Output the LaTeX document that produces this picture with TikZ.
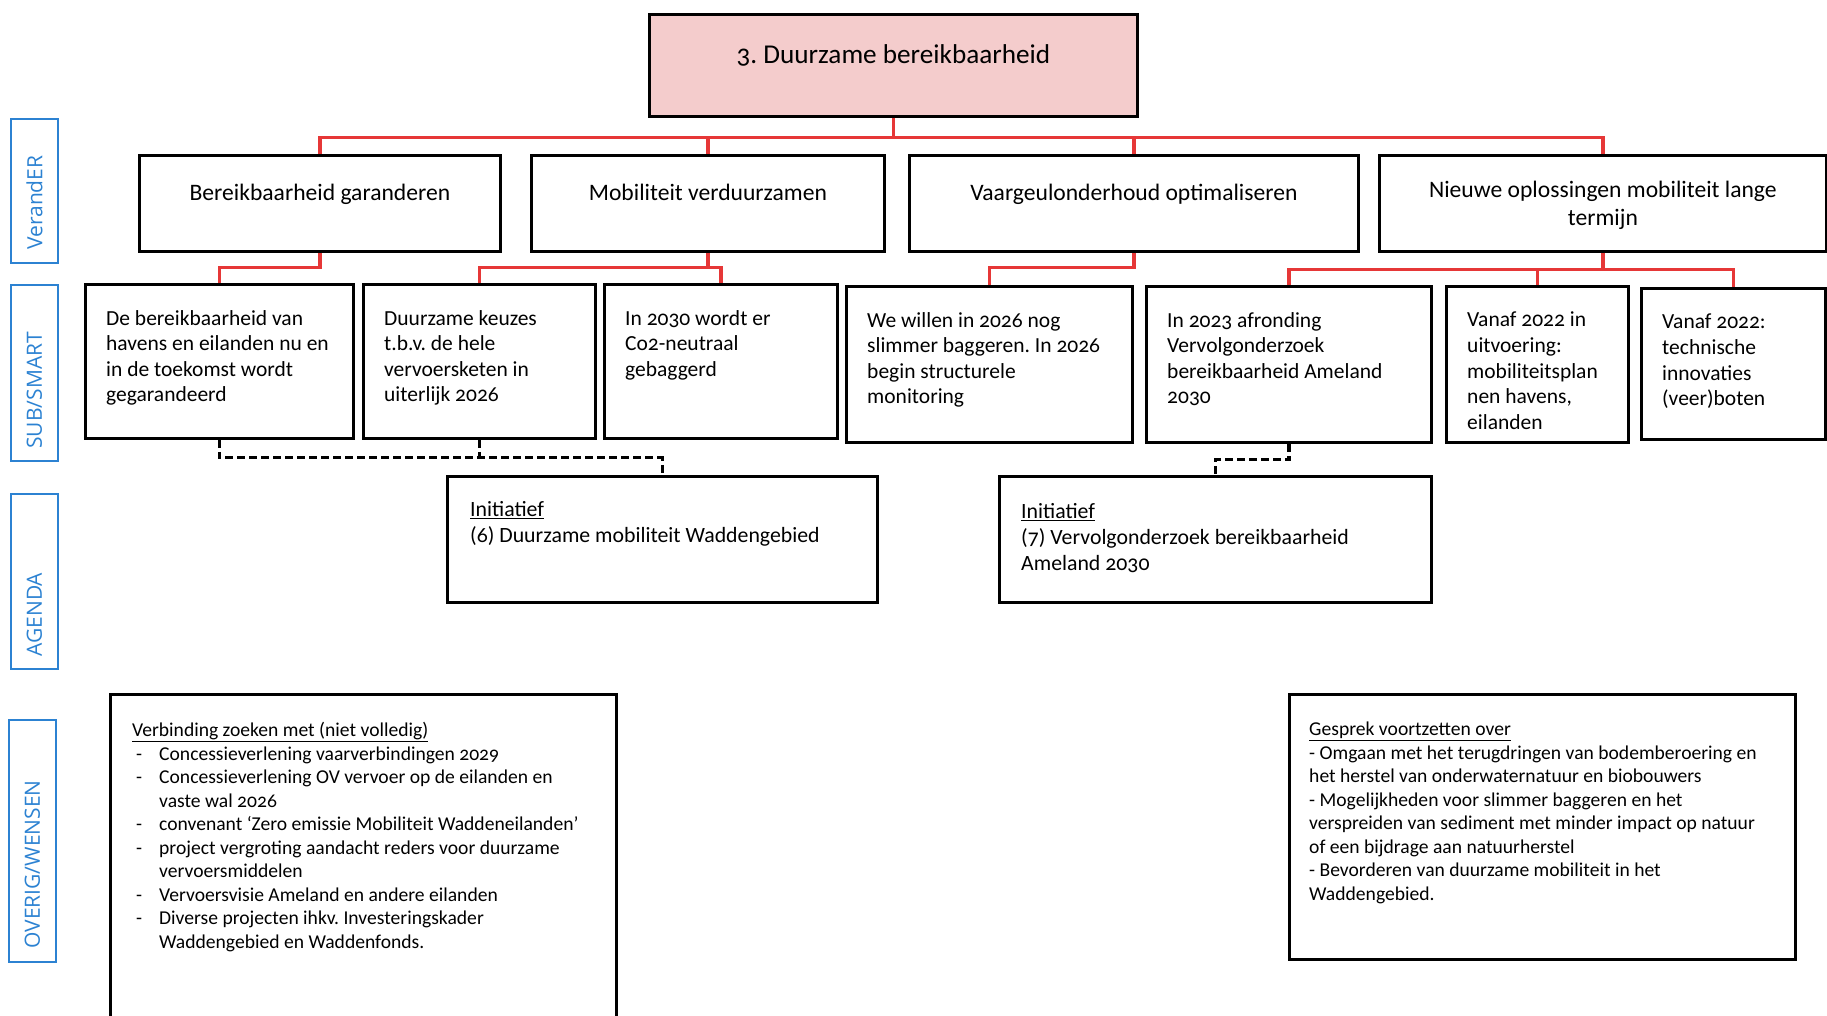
\documentclass[tikz,border=0pt]{standalone}
\usepackage{fontspec}
\setmainfont{Carlito}[Numbers=OldStyle]
\newfontfamily\zijfont{Open Sans}
\usepackage{tikz}
\usetikzlibrary{positioning}

\definecolor{lijnrood}{RGB}{230,55,55}
\definecolor{kopvak}{RGB}{244,204,204}
\definecolor{zijblauw}{RGB}{44,130,210}

\newcommand{\streep}{\hspace*{4pt}\makebox[23pt][l]{-}}
\newcommand{\inspring}{\hspace*{27pt}}

\tikzset{
  vak/.style={draw, line width=2.8pt, anchor=north west, inner sep=0pt},
  zij/.style={draw=zijblauw, line width=1.8pt, anchor=north west, inner sep=0pt, minimum width=47pt},
  zijtekst/.style={rotate=90, anchor=west, inner sep=0pt, text=zijblauw, font=\zijfont\fontsize{21}{21}\selectfont},
  rood/.style={draw=lijnrood, line width=3.2pt},
  stip/.style={draw=black, line width=3.2pt, dash pattern=on 8pt off 4pt},
  kop2/.style={inner sep=0pt, align=center, font=\fontsize{23.6}{28}\selectfont},
  tekst/.style={inner sep=0pt, align=left, font=\fontsize{21.5}{25.6}\selectfont},
  initiatief/.style={inner sep=0pt, align=left, font=\fontsize{21.8}{26}\selectfont},
  lijst/.style={inner sep=0pt, align=left, font=\fontsize{19.6}{23.5}\selectfont}
}

\begin{document}
\frenchspacing
\begin{tikzpicture}[x=1pt, y=-1pt]
\useasboundingbox (0,0) rectangle (1827,1016);

% zijkant
\foreach \naam/\x/\y/\ho in {l1/10/118/144, l2/10/284/176, l3/10/493/175, l4/8/719/242}
	\node[zij, minimum height=\ho pt] (\naam) at (\x,\y) {};
\node[zijtekst] (t-l1) at ([yshift=14pt]l1.south) {VerandER};
\node[zijtekst] (t-l2) at ([yshift=13pt]l2.south) {SUB/SMART};
\node[zijtekst] (t-l3) at ([yshift=13pt]l3.south) {AGENDA};
\node[zijtekst] (t-l4) at ([yshift=14pt]l4.south) {OVERIG/WENSEN};

% doel
\node[vak, fill=kopvak, minimum width=488pt, minimum height=102pt] (doel) at (648,13) {};
\node[inner sep=0pt, font=\fontsize{27.2}{30}\selectfont, below=31pt of doel.north] (t-doel) {3. Duurzame bereikbaarheid};

% verander
\foreach \naam/\x/\br in {v1/138/361, v2/530/353, v3/908/449, v4/1378/447}
	\node[vak, minimum width=\br pt, minimum height=96pt] (\naam) at (\x,154) {};
\node[kop2, below=30pt of v1.north] (t-v1) {Bereikbaarheid garanderen};
\node[kop2, below=30pt of v2.north] (t-v2) {Mobiliteit verduurzamen};
\node[kop2, below=30pt of v3.north] (t-v3) {Vaargeulonderhoud optimaliseren};
\node[kop2, below=27pt of v4.north] (t-v4) {Nieuwe oplossingen mobiliteit lange\\termijn};

% sub/smart
\foreach \naam/\x/\y/\br/\ho in {s1/84/283/268/154, s2/362/283/232/154, s3/603/283/233/154, s4/845/285/286/156,
		s5/1145/285/285/156, s6/1445/285/182/156, s7/1640/287/184/151}
	\node[vak, minimum width=\br pt, minimum height=\ho pt] (\naam) at (\x,\y) {};
\node[tekst, below right=27pt and 22pt of s1.north west] (t-s1) {De bereikbaarheid van\\havens en eilanden nu en\\in de toekomst wordt\\gegarandeerd};
\node[tekst, below right=27pt and 22pt of s2.north west] (t-s2) {Duurzame keuzes\\t.b.v. de hele\\vervoersketen in\\uiterlijk 2026};
\node[tekst, below right=27pt and 22pt of s3.north west] (t-s3) {In 2030 wordt er\\Co2-neutraal\\gebaggerd};
\node[tekst, below right=27pt and 22pt of s4.north west] (t-s4) {We willen in 2026 nog\\slimmer baggeren. In 2026\\begin structurele\\monitoring};
\node[tekst, below right=27pt and 22pt of s5.north west] (t-s5) {In 2023 afronding\\Vervolgonderzoek\\bereikbaarheid Ameland\\2030};
\node[tekst, below right=27pt and 22pt of s6.north west] (t-s6) {Vanaf 2022 in\\uitvoering:\\mobiliteitsplan\\nen havens,\\eilanden};
\node[tekst, below right=27pt and 22pt of s7.north west] (t-s7) {Vanaf 2022:\\technische\\innovaties\\(veer)boten};

% agenda
\node[vak, minimum width=430pt, minimum height=126pt] (i6) at (446,475) {};
\node[vak, minimum width=432pt, minimum height=126pt] (i7) at (998,475) {};
\node[initiatief, below right=26pt and 24pt of i6.north west] (t-i6) {\underline{Initiatief}\\(6) Duurzame mobiliteit Waddengebied};
\node[initiatief, below right=28pt and 23pt of i7.north west] (t-i7) {\underline{Initiatief}\\(7) Vervolgonderzoek bereikbaarheid\\Ameland 2030};

% overig/wensen
\node[vak, minimum width=506pt, minimum height=360pt] (o1) at (109,693) {};
\node[vak, minimum width=506pt, minimum height=265pt] (o2) at (1288,693) {};
\node[lijst, below right=29pt and 23pt of o1.north west] (t-o1) {\underline{Verbinding zoeken met (niet volledig)}\\
	\streep Concessieverlening vaarverbindingen 2029\\
	\streep Concessieverlening OV vervoer op de eilanden en\\
	\inspring vaste wal 2026\\
	\streep convenant ‘Zero emissie Mobiliteit Waddeneilanden’\\
	\streep project vergroting aandacht reders voor duurzame\\
	\inspring vervoersmiddelen\\
	\streep Vervoersvisie Ameland en andere eilanden\\
	\streep Diverse projecten ihkv. Investeringskader\\
	\inspring Waddengebied en Waddenfonds.};
\node[lijst, below right=29pt and 21pt of o2.north west] (t-o2) {\underline{Gesprek voortzetten over}\\
	- Omgaan met het terugdringen van bodemberoering en\\
	het herstel van onderwaternatuur en biobouwers\\
	- Mogelijkheden voor slimmer baggeren en het\\
	verspreiden van sediment met minder impact op natuur\\
	of een bijdrage aan natuurherstel\\
	- Bevorderen van duurzame mobiliteit in het\\
	Waddengebied.};

% verbindingen
\foreach \n in {v1,v2,v3,v4}
	\draw[rood] (doel.south) -- ++(0,20) -| (\n.north);
\draw[rood] (v1.south) -- ++(0,15) -| (s1.north);
\foreach \n in {s2,s3}
	\draw[rood] (v2.south) -- ++(0,15) -| (\n.north);
\draw[rood] (v3.south) -- ++(0,15) -| (s4.north);
\foreach \n in {s5,s6,s7}
	\draw[rood] (v4.south) -- ++(0,17) -| (\n.north);

\draw[stip] (s1.south) -- ++(0,18) -| (i6.north);
\draw[stip] (s2.south) -- ++(0,18);
\draw[stip] (s5.south) -- ++(0,16) -| (i7.north);
\end{tikzpicture}
\end{document}
